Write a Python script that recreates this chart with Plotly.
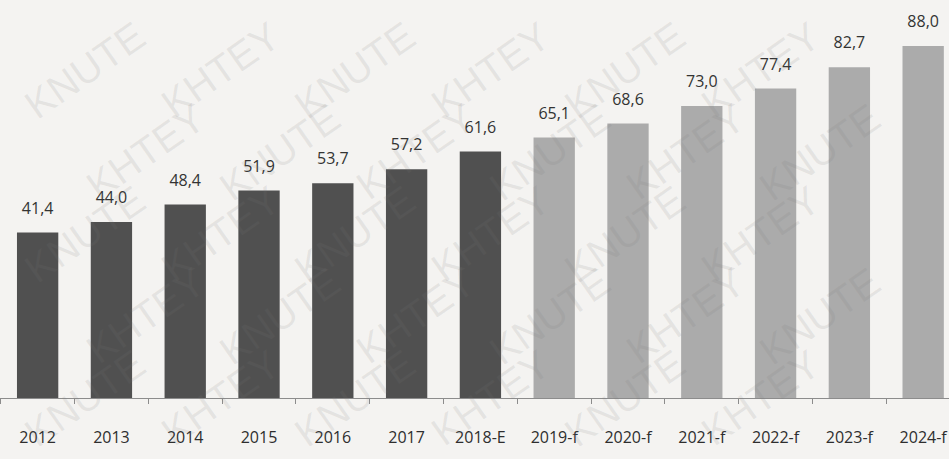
import plotly.graph_objects as go

# Market volume by year: actuals, estimate and forecast
years = ["2012", "2013", "2014", "2015", "2016", "2017", "2018-E",
         "2019-f", "2020-f", "2021-f", "2022-f", "2023-f", "2024-f"]
values = [41.4, 44.0, 48.4, 51.9, 53.7, 57.2, 61.6,
          65.1, 68.6, 73.0, 77.4, 82.7, 88.0]
is_forecast = [False] * 7 + [True] * 6

DARK = "#505050"
LIGHT = "#ababab"
FONT = "Open Sans, Liberation Sans, sans-serif"
colors = [LIGHT if f else DARK for f in is_forecast]
labels = [f"{v:.1f}".replace(".", ",") for v in values]

fig = go.Figure()
fig.add_trace(go.Bar(
    x=years,
    y=values,
    marker=dict(color=colors, line=dict(width=0)),
    width=0.56,
    hoverinfo="skip",
))
# Value labels sit a little above each bar (invisible marker pads the text)
fig.add_trace(go.Scatter(
    x=years,
    y=values,
    mode="markers+text",
    marker=dict(size=22, opacity=0),
    text=labels,
    textposition="top center",
    textfont=dict(family=FONT, size=16, color="#333333"),
    cliponaxis=False,
))

# Diagonal stamp words tiled across the sheet (pixel positions -> paper coords)
annotations = []
words = ["KNUTE", "KHTEY"]
row = 0
for py in range(70, 400, 82):
    col = 0
    for px in range(85 + (row % 2) * 60, 880, 135):
        annotations.append(dict(
            x=px / 949, y=1 - py / 459, xref="paper", yref="paper",
            xanchor="center", yanchor="middle",
            text=words[(row + col) % 2], showarrow=False, textangle=-35,
            font=dict(family="Liberation Sans, sans-serif", size=40,
                      color="rgba(120,120,120,0.13)"),
        ))
        col += 1
    row += 1

fig.update_layout(
    width=949, height=459,
    margin=dict(l=0, r=0, t=0, b=0),
    paper_bgcolor="#f4f3f1",
    plot_bgcolor="rgba(0,0,0,0)",
    showlegend=False,
    annotations=annotations,
    xaxis=dict(
        type="category",
        range=[-0.51, 12.35],
        domain=[0, 1],
        showline=True, linecolor="#8c8c8c", linewidth=1,
        ticks="outside", tickson="boundaries", ticklen=5, tickcolor="#8c8c8c",
        ticklabelstandoff=25,
        tickfont=dict(family=FONT, size=16, color="#2e2e2e"),
        showgrid=False,
    ),
    yaxis=dict(range=[0, 99.5], visible=False, showgrid=False,
               domain=[61 / 459, 1]),
)

fig.write_html("out.html")
